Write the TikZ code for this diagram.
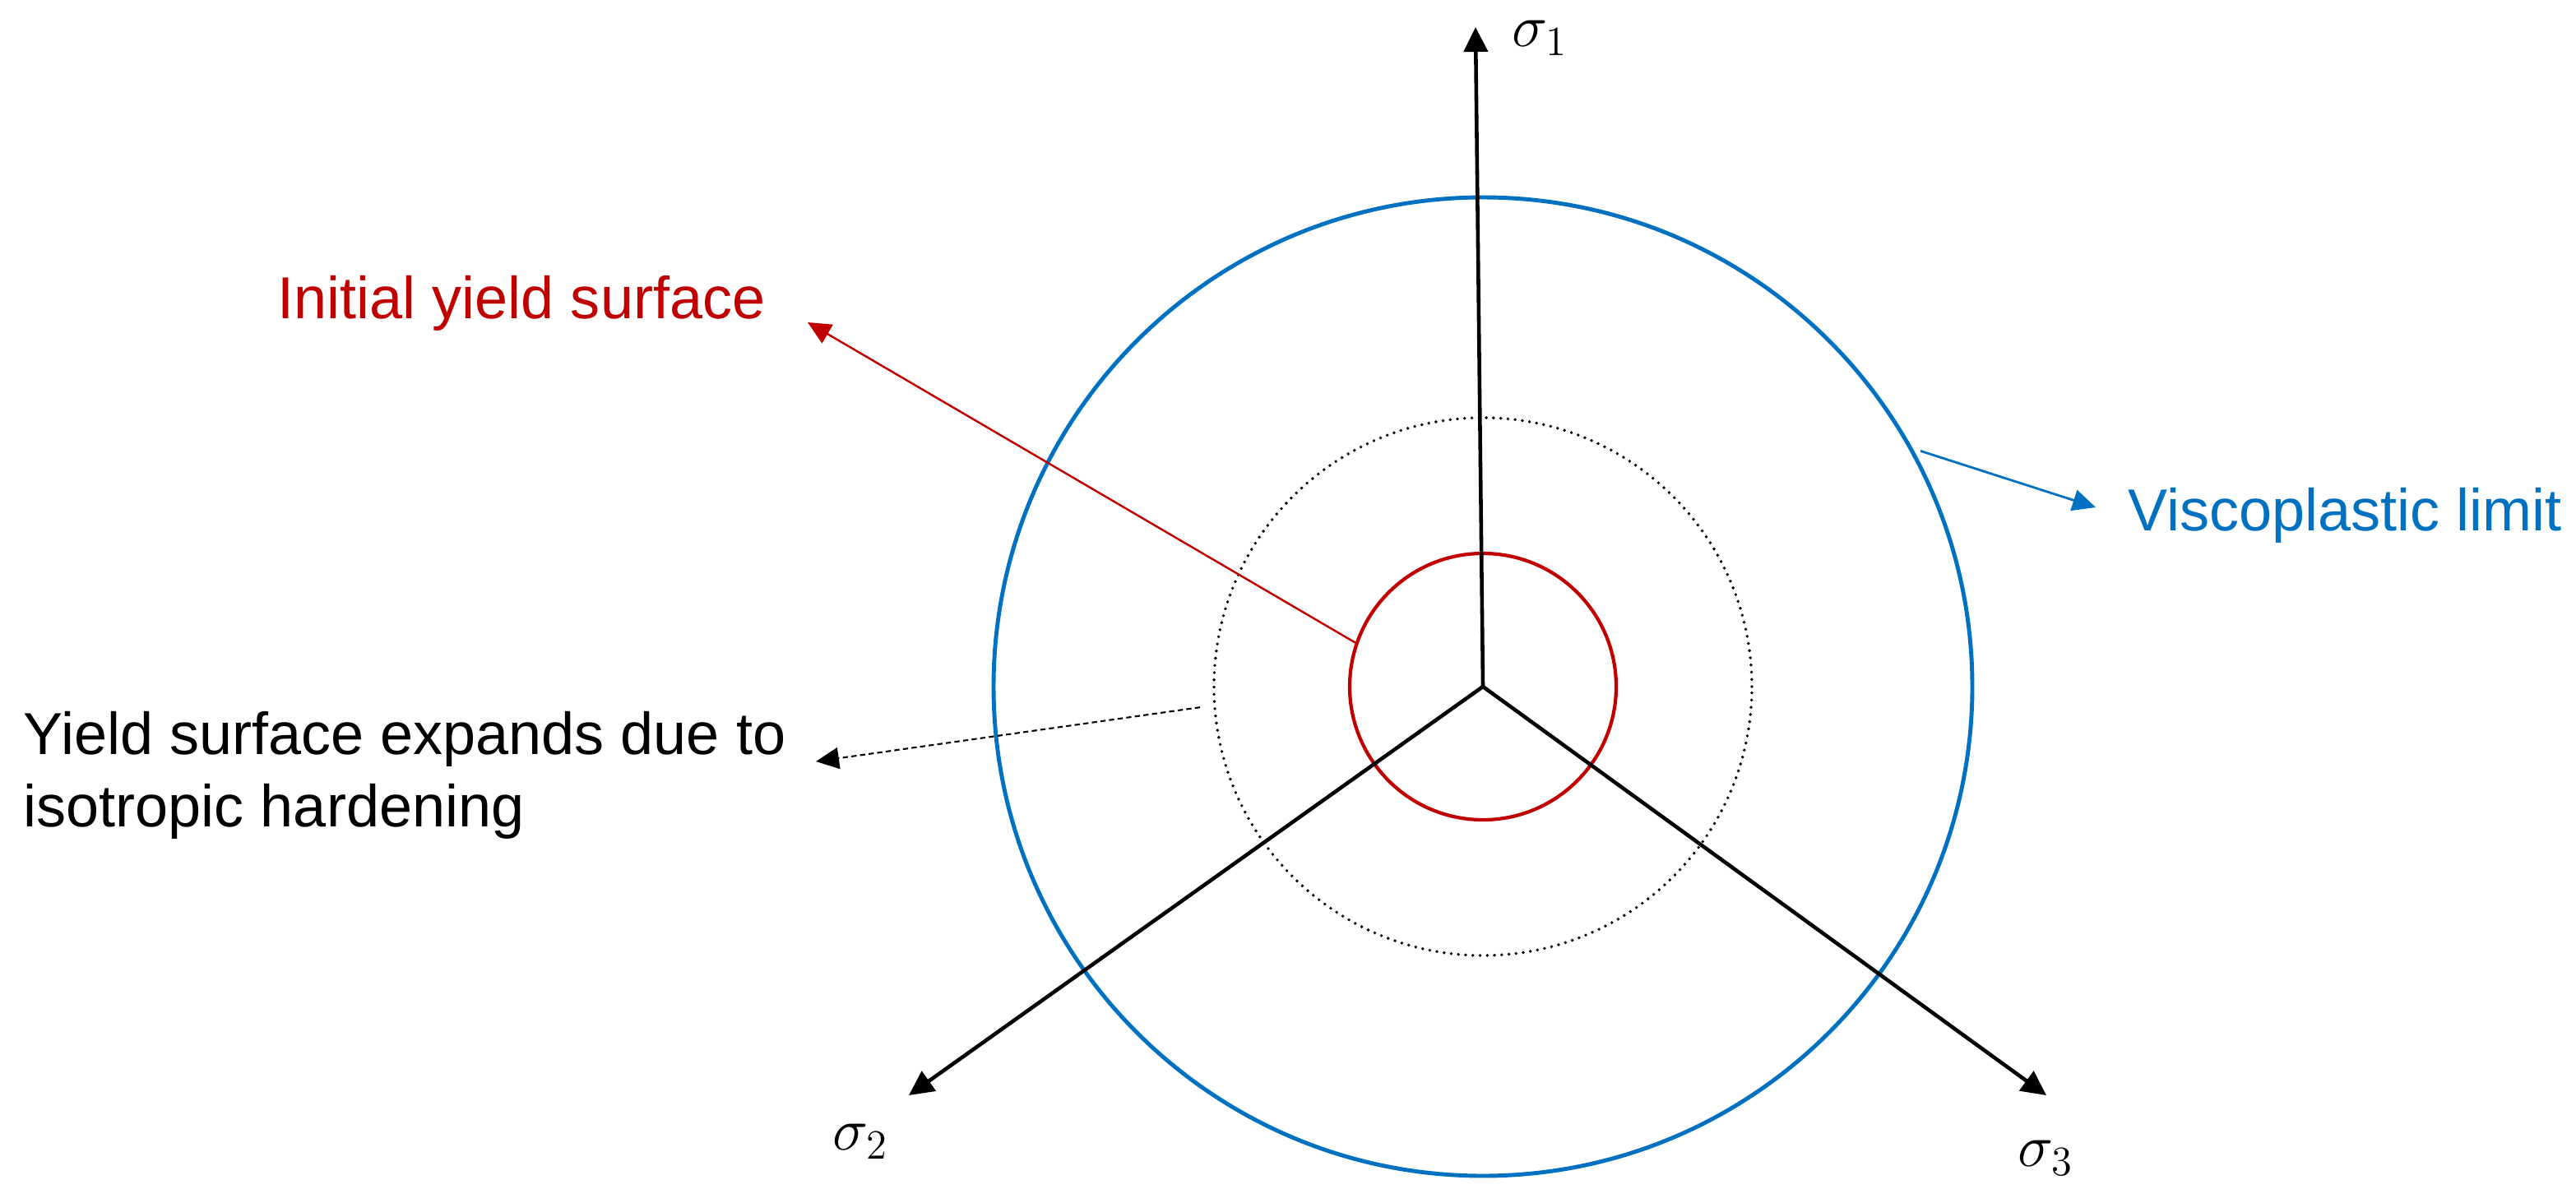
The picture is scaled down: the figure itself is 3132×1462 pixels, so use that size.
\documentclass[tikz,border=0pt]{standalone}
\usepackage{fontspec}
\setmainfont{Liberation Sans}
\usepackage{amsmath}
\usepackage{xcolor}
\definecolor{yieldred}{RGB}{192,0,0}
\definecolor{limitblue}{RGB}{0,112,192}
\usetikzlibrary{arrows.meta, positioning}

\begin{document}
\begin{tikzpicture}[
    x=0.1mm, y=-0.1mm,
    every node/.style={font=\fontsize{20.5}{24.8}\selectfont, inner sep=0pt},
    axis/.style={-{Triangle[length=3mm, width=2.9mm]}, line width=1.3pt, black},
    surface/.style={circle, draw, minimum size=#1},
    pointer/.style={-{Triangle[length=2.8mm, width=2.6mm]}, line width=0.7pt},
    dotline/.style={line width=1.1pt, dash pattern=on 0pt off 2.5pt, line cap=round}
]
\useasboundingbox (0,0) rectangle (3132,1462);

% stress axes
\coordinate (O) at (1803,835);
\coordinate (s1) at (1794,33);
\coordinate (s2) at (1105,1332);
\coordinate (s3) at (2488,1332);

% yield surfaces
\node[surface=119.0mm, draw=limitblue, line width=1.4pt] (limit) at (O) {};
\node[surface=65.4mm, draw=black, dotline] (hardened) at (O) {};
\node[surface=32.4mm, draw=yieldred, line width=1.2pt] (yield) at (O) {};

\draw[axis] (O) -- (s1);
\draw[axis] (O) -- (s2);
\draw[axis] (O) -- (s3);

\node[anchor=west] (s1lbl) at (1838,46) {$\sigma_1$};
\node (s2lbl) at (1046,1388) {$\sigma_2$};
\node (s3lbl) at (2487,1408) {$\sigma_3$};

% labels
\node[anchor=base west, text=yieldred] (initlbl) at (337,387) {Initial yield surface};
\node[anchor=base west, text=limitblue] (limitlbl) at (2587,645) {Viscoplastic limit};
\node[anchor=north west, align=left] (hardlbl) at (28,865) {Yield surface expands due to\\isotropic hardening};

\coordinate (inittip) at (982,392);
\coordinate (limittip) at (2548,617);
\coordinate (hardtip) at (992,926);

\draw[pointer, yieldred] (yield.161) -- (inittip);
\draw[pointer, limitblue, line width=0.8pt, shorten <=1mm] (limit.29) -- (limittip);
\draw[pointer, black, line width=0.6pt, dash pattern=on 1.8pt off 1.2pt, shorten <=1.6mm] (hardened.184) -- (hardtip);
\end{tikzpicture}
\end{document}
